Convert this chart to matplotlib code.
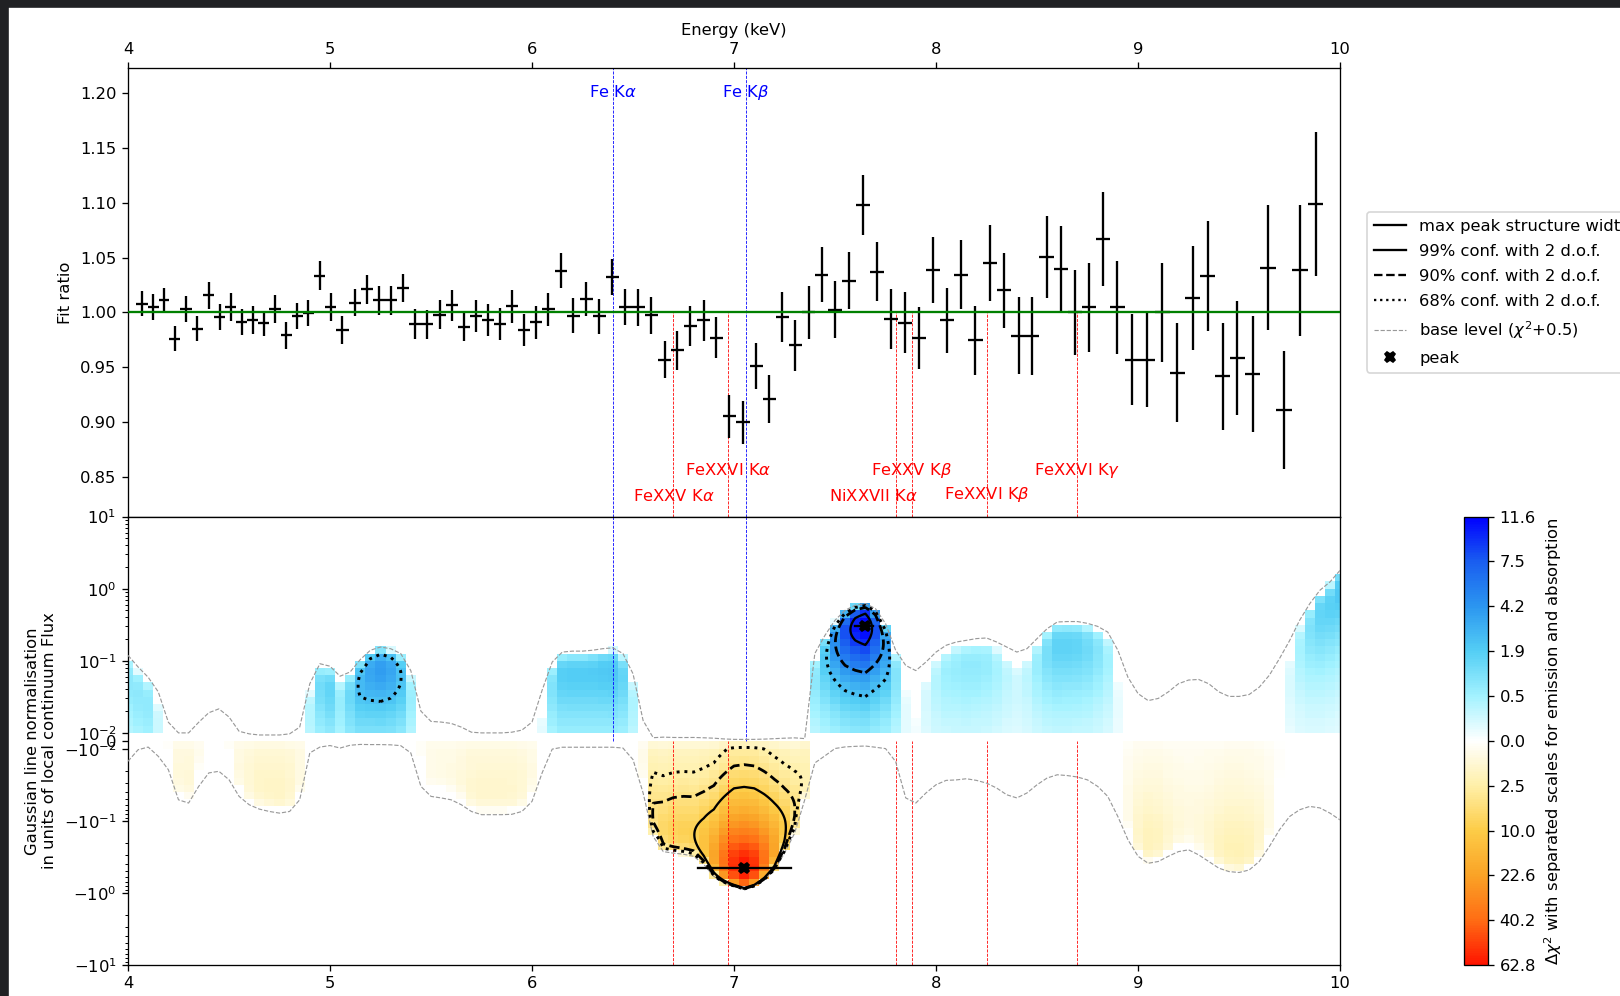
import numpy as np
import matplotlib
matplotlib.use("Agg")
import matplotlib.pyplot as plt
import matplotlib.ticker as mticker
from matplotlib.colors import LinearSegmentedColormap, Normalize
from matplotlib.cm import ScalarMappable
from matplotlib.lines import Line2D
from matplotlib.patches import Rectangle

# ---- top panel: data / model ratio ----
ratio_energy = [4.069, 4.125, 4.178, 4.232, 4.287, 4.343, 4.399, 4.454, 4.508, 4.563,
                4.619, 4.673, 4.728, 4.782, 4.839, 4.893, 4.949, 5.004, 5.060, 5.125,
                5.181, 5.242, 5.303, 5.363, 5.420, 5.480, 5.543, 5.602, 5.664, 5.723,
                5.782, 5.840, 5.901, 5.962, 6.022, 6.081, 6.143, 6.204, 6.267, 6.332,
                6.396, 6.461, 6.526, 6.591, 6.656, 6.718, 6.783, 6.850, 6.913, 6.976,
                7.046, 7.110, 7.173, 7.238, 7.303, 7.370, 7.435, 7.499, 7.568, 7.639,
                7.708, 7.777, 7.848, 7.917, 7.986, 8.054, 8.123, 8.194, 8.269, 8.338,
                8.409, 8.476, 8.547, 8.618, 8.687, 8.758, 8.827, 8.896, 8.972, 9.045,
                9.118, 9.195, 9.271, 9.346, 9.419, 9.492, 9.567, 9.645, 9.722, 9.804,
                9.879]
ratio = [1.008, 1.005, 1.011, 0.976, 1.003, 0.985, 1.0155, 0.996, 1.005, 0.991,
         0.993, 0.990, 1.003, 0.979, 0.9965, 0.9995, 1.0335, 1.005, 0.984, 1.009,
         1.021, 1.011, 1.011, 1.0225, 0.9895, 0.989, 0.998, 1.0065, 0.987, 0.9965,
         0.993, 0.9895, 1.0055, 0.984, 0.991, 1.003, 1.038, 0.997, 1.0125, 0.9965,
         1.032, 1.005, 1.0045, 0.9975, 0.957, 0.9653, 0.9875, 0.9927, 0.977, 0.905,
         0.8998, 0.951, 0.921, 0.9957, 0.970, 1.000, 1.0344, 1.0024, 1.029, 1.098,
         1.037, 0.9936, 0.9906, 0.9769, 1.0387, 0.9927, 1.0344, 0.9744, 1.045, 1.0204,
         0.9787, 0.9787, 1.0505, 1.0396, 1.000, 1.0046, 1.0673, 1.0046, 0.9568, 0.9568,
         1.000, 0.9449, 1.0128, 1.0332, 0.9416, 0.9586, 0.9437, 1.0408, 0.9108, 1.0384,
         1.0992]
ratio_err = [0.0116, 0.012, 0.011, 0.0115, 0.012, 0.0115, 0.012, 0.012, 0.0125, 0.012,
             0.0125, 0.0115, 0.0125, 0.0125, 0.012, 0.012, 0.013, 0.013, 0.0125, 0.012,
             0.013, 0.013, 0.013, 0.013, 0.0135, 0.013, 0.013, 0.014, 0.0135, 0.0145,
             0.0145, 0.0145, 0.015, 0.015, 0.015, 0.015, 0.016, 0.016, 0.0155, 0.016,
             0.0165, 0.0165, 0.017, 0.017, 0.017, 0.018, 0.018, 0.0185, 0.019, 0.0195,
             0.0195, 0.021, 0.022, 0.023, 0.0235, 0.0245, 0.025, 0.026, 0.0259, 0.0274,
             0.027, 0.0274, 0.028, 0.0285, 0.0303, 0.030, 0.0317, 0.0318, 0.0344, 0.0342,
             0.035, 0.0356, 0.0374, 0.039, 0.0387, 0.0406, 0.0429, 0.0423, 0.0416, 0.043,
             0.045, 0.045, 0.0475, 0.050, 0.049, 0.052, 0.053, 0.057, 0.054, 0.060,
             0.0658]

# known lines (keV)
fe_lines = ["Fe K$\\alpha$", "Fe K$\\beta$"]
fe_energy = [6.40, 7.058]
ion_lines = ["FeXXV K$\\alpha$", "FeXXVI K$\\alpha$", "NiXXVII K$\\alpha$",
             "FeXXV K$\\beta$", "FeXXVI K$\\beta$", "FeXXVI K$\\gamma$"]
ion_energy = [6.70, 6.97, 7.80, 7.88, 8.25, 8.70]
ion_label_x = [6.70, 6.97, 7.69, 7.88, 8.25, 8.70]
ion_label_y = [0.832, 0.856, 0.832, 0.856, 0.834, 0.856]

# ---- bottom panel: blind line scan ----
scan_energy = np.linspace(4.0, 10.0, 121)
# base level (chi2 + 0.5) upper / lower norm, read per scan column
base_upper = [0.119, 0.082, 0.059, 0.037, 0.014, 0.0099, 0.0099, 0.014, 0.019, 0.0215,
              0.0166, 0.0105, 0.0087, 0.0073, 0.0073, 0.0073, 0.0087, 0.012, 0.048, 0.091,
              0.084, 0.061, 0.070, 0.104, 0.140, 0.155, 0.147, 0.126, 0.073, 0.020,
              0.0144, 0.0141, 0.0135, 0.012, 0.0102, 0.0099, 0.0099, 0.0099, 0.0102, 0.0109,
              0.0141, 0.039, 0.096, 0.132, 0.136, 0.136, 0.140, 0.147, 0.151, 0.126,
              0.066, 0.0148, 0.0039, 0.0046, 0.0042, 0.0041, 0.0042, 0.0038, 0.0033, 0.00235,
              0.00183, 0.00176, 0.00183, 0.00216, 0.0027, 0.0033, 0.0037, 0.0028, 0.126, 0.225,
              0.365, 0.502, 0.589, 0.622, 0.530, 0.328, 0.140, 0.086, 0.073, 0.096,
              0.132, 0.164, 0.182, 0.192, 0.203, 0.207, 0.182, 0.155, 0.132, 0.147,
              0.203, 0.279, 0.345, 0.350, 0.350, 0.330, 0.300, 0.250, 0.140, 0.059,
              0.035, 0.028, 0.030, 0.037, 0.048, 0.054, 0.055, 0.048, 0.037, 0.032,
              0.032, 0.034, 0.043, 0.063, 0.107, 0.190, 0.365, 0.620, 0.950, 1.240,
              1.800]
base_lower = [-0.0149, -0.0103, -0.0078, -0.0127, -0.0195, -0.051, -0.0565, -0.0332, -0.0216, -0.0205,
              -0.0268, -0.0457, -0.0597, -0.0686, -0.074, -0.078, -0.074, -0.051, -0.0114, -0.0078,
              -0.0059, -0.009, -0.0055, -0.0045, -0.0047, -0.0047, -0.0050, -0.0060, -0.0114, -0.0332,
              -0.0457, -0.048, -0.051, -0.0597, -0.074, -0.082, -0.082, -0.082, -0.081, -0.074,
              -0.0537, -0.0216, -0.0101, -0.008, -0.008, -0.008, -0.008, -0.008, -0.008, -0.009,
              -0.0141, -0.041, -0.165, -0.267, -0.28, -0.29, -0.31, -0.40, -0.59, -0.72,
              -0.81, -0.89, -0.81, -0.66, -0.48, -0.28, -0.148, -0.051, -0.0157, -0.0125,
              -0.0096, -0.0076, -0.0069, -0.0065, -0.0080, -0.0097, -0.015, -0.048, -0.0565, -0.041,
              -0.0315, -0.0274, -0.027, -0.026, -0.0274, -0.0299, -0.035, -0.0434, -0.048, -0.041,
              -0.0315, -0.0254, -0.0229, -0.0235, -0.0246, -0.027, -0.0332, -0.0457, -0.087, -0.183,
              -0.31, -0.387, -0.366, -0.31, -0.267, -0.252, -0.296, -0.366, -0.453, -0.505,
              -0.52, -0.48, -0.366, -0.227, -0.133, -0.087, -0.070, -0.063, -0.066, -0.078,
              -0.097]
emis_max = 11.648
abs_max = 62.8
emis_width = [7.60, 7.69]
abs_width = [6.82, 7.28]
conf_levels = [2.30, 4.61, 9.21]

# best-fit norm and its error for a gaussian at each scan energy
U = np.array(base_upper)
L = np.array(base_lower)
n_best = (U + L) / 2
n_var = -2 * U * L


def delta_chi2(norm):
    norm = np.asarray(norm)[:, None]
    return (2 * norm * n_best[None, :] - norm ** 2) / n_var[None, :]


cmap = LinearSegmentedColormap.from_list("sep", [
    (0.00, (1.00, 0.08, 0.00)),
    (0.10, (1.00, 0.43, 0.08)),
    (0.20, (0.98, 0.64, 0.15)),
    (0.30, (0.99, 0.80, 0.28)),
    (0.40, (1.00, 0.94, 0.66)),
    (0.50, (1.00, 1.00, 1.00)),
    (0.60, (0.64, 0.95, 1.00)),
    (0.70, (0.33, 0.81, 0.96)),
    (0.80, (0.17, 0.59, 0.94)),
    (0.90, (0.10, 0.37, 0.94)),
    (1.00, (0.00, 0.00, 1.00)),
])
norm_c = Normalize(-1, 1)

DPI = 118
fig = plt.figure(figsize=(1620 / DPI, 996 / DPI), dpi=DPI)
ax1 = fig.add_axes([0.0790, 0.4813, 0.7482, 0.4504])
ax2 = fig.add_axes([0.0790, 0.0311, 0.7482, 0.4502])
cax = fig.add_axes([0.9037, 0.0311, 0.0148, 0.4502])

# dark screenshot frame
fig.patches.append(Rectangle((0, 0), 8 / 1620, 1, transform=fig.transFigure,
                             color="#202124", zorder=-10))
fig.patches.append(Rectangle((0, 1 - 7 / 996), 1, 7 / 996, transform=fig.transFigure,
                             color="#202124", zorder=-10))

# ---- top panel ----
ylo, yhi = 0.8136, 1.2231
re = np.array(ratio_energy)
mids = (re[1:] + re[:-1]) / 2
left = np.concatenate([[re[0] - (mids[0] - re[0])], mids])
right = np.concatenate([mids, [re[-1] + (re[-1] - mids[-1])]])
ax1.errorbar(re, ratio, xerr=[re - left, right - re], yerr=ratio_err,
             fmt="none", ecolor="black", elinewidth=1.4, capsize=0, zorder=2)
ax1.axhline(1.0, color="green", lw=1.4, zorder=3)
ax1.vlines(fe_energy, ylo, yhi, colors="blue", linestyles="--", lw=0.5, zorder=1)
ax1.vlines(ion_energy, ylo, 1.0, colors="red", linestyles="--", lw=0.5, zorder=1)
for name, x in zip(fe_lines, fe_energy):
    ax1.text(x, 1.201, name, color="blue", ha="center", va="center")
for name, x, y in zip(ion_lines, ion_label_x, ion_label_y):
    ax1.text(x, y, name, color="red", ha="center", va="center")
ax1.set_xlim(4, 10)
ax1.set_ylim(ylo, yhi)
ax1.xaxis.tick_top()
ax1.xaxis.set_label_position("top")
ax1.set_xlabel("Energy (keV)")
ax1.set_ylabel("Fit ratio")
ax1.set_yticks([0.85, 0.90, 0.95, 1.00, 1.05, 1.10, 1.15, 1.20])
ax1.yaxis.set_major_formatter(mticker.FormatStrFormatter("%.2f"))

# ---- bottom panel ----
e_edges = np.concatenate([[scan_energy[0] - 0.025],
                          (scan_energy[1:] + scan_energy[:-1]) / 2,
                          [scan_energy[-1] + 0.025]])
pos_edges = np.logspace(-2, 1, 31)
neg_edges = np.concatenate([[0.0], -np.logspace(-2, 1, 31)])
pos_mid = np.sqrt(pos_edges[1:] * pos_edges[:-1])
neg_mid = np.concatenate([[-0.005], -np.sqrt(pos_edges[1:] * pos_edges[:-1])])

em = delta_chi2(pos_mid)
ab = delta_chi2(neg_mid)
c_em = np.ma.masked_where(em <= 0, np.sqrt(np.clip(em, 0, None) / emis_max))
c_ab = np.ma.masked_where(ab <= 0, -np.sqrt(np.clip(ab, 0, None) / abs_max))
ax2.pcolormesh(e_edges, pos_edges, c_em, cmap=cmap, norm=norm_c, shading="flat",
               edgecolors="none", antialiased=False, zorder=1)
ax2.pcolormesh(e_edges, neg_edges, c_ab, cmap=cmap, norm=norm_c, shading="flat",
               edgecolors="none", antialiased=False, zorder=1)

fine_pos = np.concatenate([np.linspace(0, 0.0099, 20), np.logspace(-2, 1, 400)])
fine_neg = np.concatenate([-np.logspace(1, -2, 400), np.linspace(-0.0099, 0, 20)])
for fine in (fine_pos, fine_neg):
    ax2.contour(scan_energy, fine, delta_chi2(fine), levels=conf_levels, colors="black",
                linestyles=[":", "--", "-"], linewidths=[1.8, 1.7, 1.4], zorder=4)

ax2.plot(scan_energy, base_upper, color="#999999", ls="--", lw=0.7, zorder=3)
ax2.plot(scan_energy, base_lower, color="#999999", ls="--", lw=0.7, zorder=3)
ax2.vlines(fe_energy, 0, 10, colors="blue", linestyles="--", lw=0.5, zorder=2)
ax2.vlines(ion_energy, -10, 0, colors="red", linestyles="--", lw=0.5, zorder=2)

# peaks and structure widths
peak_val = n_best ** 2 / n_var
i_em = np.argmax(np.where(n_best > 0, peak_val, 0))
i_ab = np.argmax(np.where(n_best < 0, peak_val, 0))
ax2.plot(emis_width, [n_best[i_em]] * 2, color="black", lw=1.4, zorder=5)
ax2.plot(abs_width, [n_best[i_ab]] * 2, color="black", lw=1.4, zorder=5)
ax2.plot([scan_energy[i_em], scan_energy[i_ab]], [n_best[i_em], n_best[i_ab]],
         ls="none", marker="X", color="black", ms=6.5, zorder=6)

ax2.set_yscale("symlog", linthresh=0.01, linscale=0.1)
ax2.set_ylim(-10, 10)
ax2.set_xlim(4, 10)
ax2.yaxis.set_minor_locator(mticker.SymmetricalLogLocator(linthresh=0.01, base=10,
                                                          subs=np.arange(2, 10)))
ax2.set_ylabel("Gaussian line normalisation\nin units of local continuum Flux")

# colorbar with separated scales
cb = fig.colorbar(ScalarMappable(norm=norm_c, cmap=cmap), cax=cax)
cticks = np.linspace(-1, 1, 11)
clabels = []
for t in cticks:
    if t > 1e-9:
        clabels.append("%.1f" % (emis_max * t ** 2))
    elif t < -1e-9:
        clabels.append("%.1f" % (abs_max * t ** 2))
    else:
        clabels.append("0.0")
cb.set_ticks(cticks)
cb.set_ticklabels(clabels)
cb.set_label("$\\Delta\\chi^2$ with separated scales for emission and absorption")

handles = [
    Line2D([0], [0], color="black", lw=1.4, label="max peak structure width"),
    Line2D([0], [0], color="black", lw=1.4, ls="-", label="99% conf. with 2 d.o.f."),
    Line2D([0], [0], color="black", lw=1.4, ls="--", label="90% conf. with 2 d.o.f."),
    Line2D([0], [0], color="black", lw=1.4, ls=":", label="68% conf. with 2 d.o.f."),
    Line2D([0], [0], color="#999999", lw=0.7, ls="--", label="base level ($\\chi^2$+0.5)"),
    Line2D([0], [0], color="black", ls="none", marker="X", ms=6.5, label="peak"),
]
fig.legend(handles=handles, loc="upper left", bbox_to_anchor=(1367 / 1620, 1 - 212 / 996),
           borderaxespad=0, labelspacing=0.62)

fig.savefig("out.png", dpi=DPI)
